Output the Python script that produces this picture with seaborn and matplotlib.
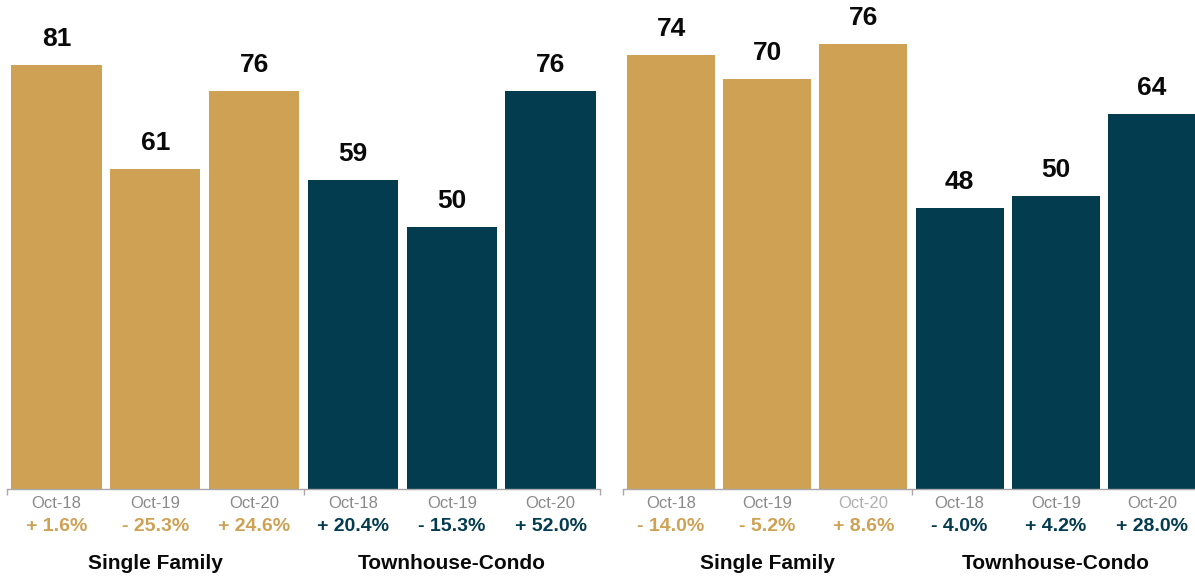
import matplotlib
matplotlib.use("Agg")
import matplotlib.pyplot as plt
import seaborn as sns
import pandas as pd

# Monthly values by property type, two panels
months = ["Oct-18", "Oct-19", "Oct-20"]
groups = ["Single Family", "Townhouse-Condo"]

left_single = [81, 61, 76]
left_town = [59, 50, 76]
left_change = ["+ 1.6%", "- 25.3%", "+ 24.6%", "+ 20.4%", "- 15.3%", "+ 52.0%"]

right_single = [74, 70, 76]
right_town = [48, 50, 64]
right_change = ["- 14.0%", "- 5.2%", "+ 8.6%", "- 4.0%", "+ 4.2%", "+ 28.0%"]

GOLD = "#CFA155"
NAVY = "#033B4F"
palette = {"Single Family": GOLD, "Townhouse-Condo": NAVY}

sns.set_theme(style="white")
plt.rcParams["font.family"] = ["Liberation Sans", "DejaVu Sans"]

W, H = 1195, 578
fig = plt.figure(figsize=(W / 100, H / 100), dpi=100)

baseline = 489


def panel(rect, single, town, changes, ytop, month_colors):
    ax = fig.add_axes(rect)
    df = pd.DataFrame({
        "slot": [f"{g}|{m}" for g in groups for m in months],
        "value": single + town,
        "type": [g for g in groups for _ in months],
    })
    sns.barplot(data=df, x="slot", y="value", hue="type", palette=palette,
                dodge=False, width=0.915, saturation=1, legend=False,
                linewidth=0, edgecolor="none", ax=ax)
    ax.set_xlim(-0.5, 5.5)
    ax.set_ylim(0, ytop)
    ax.set_xlabel("")
    ax.set_ylabel("")
    ax.set_yticks([])
    for s in ["left", "right", "top"]:
        ax.spines[s].set_visible(False)
    ax.spines["bottom"].set_color("#A8A8A8")
    ax.spines["bottom"].set_linewidth(1.0)
    ax.set_xticks([-0.5, 2.5, 5.5])
    ax.set_xticklabels([])
    ax.tick_params(axis="x", which="major", direction="out", length=4.5,
                   width=1.0, color="#A8A8A8", bottom=True)
    ax.patch.set_alpha(0)

    for i, (v, t) in enumerate(zip(df["value"], df["type"])):
        ax.annotate(f"{v}", xy=(i, v), xytext=(0, 18.7), textcoords="offset points",
                    ha="center", va="center", fontsize=19, fontweight="bold",
                    color="#0A0A0A")
        ax.annotate(months[i % 3], xy=(i, 0), xytext=(0, -10.5),
                    textcoords="offset points", ha="center", va="center",
                    fontsize=12, color=month_colors[i])
        ax.annotate(changes[i], xy=(i, 0), xytext=(0, -27),
                    textcoords="offset points", ha="center", va="center",
                    fontsize=14, fontweight="bold", color=palette[t])
    for j, g in enumerate(groups):
        ax.annotate(g, xy=(1 + 3 * j, 0), xytext=(0, -53.5),
                    textcoords="offset points", ha="center", va="center",
                    fontsize=15, fontweight="bold", color="#0A0A0A")
    return ax


bottom = (H - baseline) / H
grey = "#8A8A8A"
panel([7 / W, bottom, 593 / W, 1 - bottom], left_single, left_town, left_change,
      baseline / 5.24, [grey] * 6)
panel([623 / W, bottom, 577 / W, 1 - bottom], right_single, right_town, right_change,
      baseline / 5.86, [grey, grey, "#B0B0B0", grey, grey, grey])

fig.savefig("out.png", dpi=100)
